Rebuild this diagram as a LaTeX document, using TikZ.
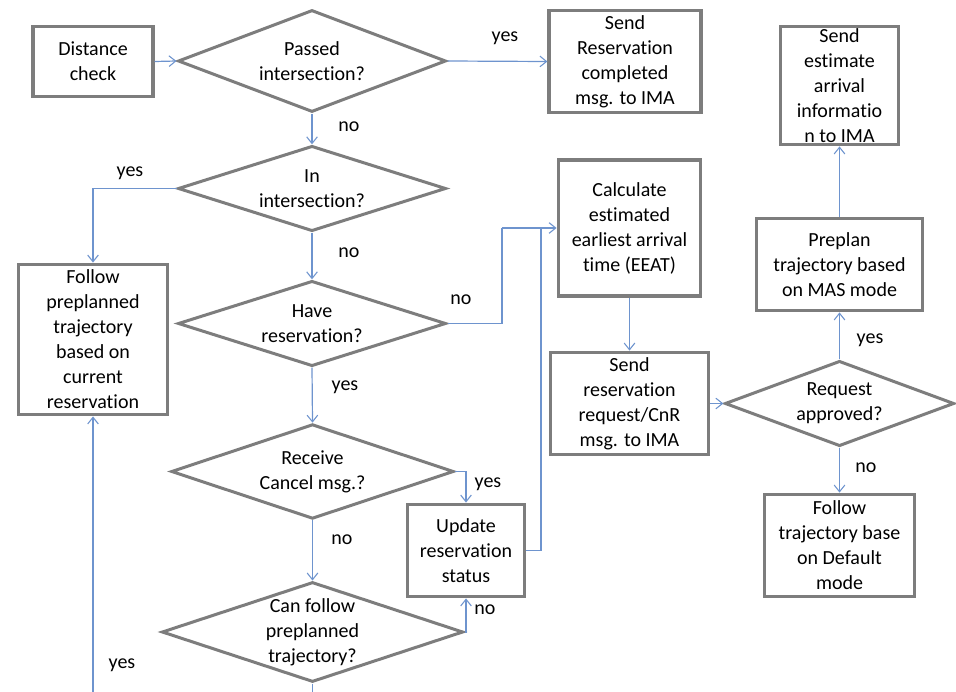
\documentclass[tikz,border=0pt]{standalone}
\usepackage{fontspec}
\setmainfont{Carlito}[Ligatures=NoCommon]
\usetikzlibrary{shapes.geometric,arrows.meta}
\definecolor{boxgray}{RGB}{125,125,125}
\definecolor{flowblue}{RGB}{110,148,206}
\tikzset{
  every node/.style={font=\fontsize{15}{18.75}\selectfont, text=black},
  procbox/.style={draw=boxgray, line width=2.4pt, fill=white, rectangle,
    inner sep=0pt, align=center},
  decision/.style={draw=boxgray, line width=2.25pt, fill=white, diamond,
    inner sep=0pt},
  dtext/.style={align=center, inner sep=0pt},
  flow/.style={draw=flowblue, line width=0.9pt,
    -{Straight Barb[length=5pt,width=8pt,line width=0.8pt]}},
  plain/.style={draw=flowblue, line width=0.9pt},
  lbl/.style={inner sep=0pt}
}
\begin{document}
\begin{tikzpicture}[x=0.75pt, y=-0.75pt]
\useasboundingbox (0,0) rectangle (956,692);

% process boxes
\node[procbox, minimum width=90pt, minimum height=53pt] (dist) at (93,61.5) {Distance\\check};
\node[procbox, minimum width=114pt, minimum height=77pt] (sendres) at (625,61.5) {Send\\Reservation\\completed\\msg. to IMA};
\node[procbox, minimum width=89pt, minimum height=89pt] (sendest) at (839.5,85.5) {Send\\estimate\\arrival\\informatio\\n to IMA};
\node[procbox, minimum width=107pt, minimum height=102pt] (calc) at (629.5,228) {Calculate\\estimated\\earliest arrival\\time (EEAT)};
\node[procbox, minimum width=125pt, minimum height=69.5pt] (preplan) at (839.5,264.5) {Preplan\\trajectory based\\on MAS mode};
\node[procbox, minimum width=112pt, minimum height=113pt] (follow) at (93,339.5) {Follow\\preplanned\\trajectory\\based on\\current\\reservation};
\node[procbox, minimum width=119pt, minimum height=77pt] (sendreq) at (629.5,403.5) {Send\\reservation\\request/CnR\\msg. to IMA};
\node[procbox, minimum width=88pt, minimum height=69.5pt] (update) at (466,550.5) {Update\\reservation\\status};
\node[procbox, minimum width=113pt, minimum height=77pt] (default) at (839.5,545.5) {Follow\\trajectory base\\on Default\\mode};

% decision diamonds
\node[decision, minimum width=201pt, minimum height=76.5pt] (passed) at (312,61) {};
\node[dtext] at (passed) {Passed\\intersection?};
\node[decision, minimum width=201pt, minimum height=64pt] (inter) at (312,188.5) {};
\node[dtext] at (inter) {In\\intersection?};
\node[decision, minimum width=201pt, minimum height=64pt] (have) at (312,323.5) {};
\node[dtext] at (have) {Have\\reservation?};
\node[decision, minimum width=212pt, minimum height=71pt] (receive) at (312.5,471.5) {};
\node[dtext] at (receive) {Receive\\Cancel msg.?};
\node[decision, minimum width=226pt, minimum height=75pt] (canfollow) at (312.5,632) {};
\node[dtext] at (canfollow) {Can follow\\preplanned\\trajectory?};
\node[decision, minimum width=172pt, minimum height=64pt] (approved) at (839.5,403.5) {};
\node[dtext] at (approved) {Request\\approved?};

% junction points
\coordinate (j1) at (502,228);
\coordinate (j2) at (541,228);
\coordinate (bot1) at (312.5,692);
\coordinate (bot2) at (93,692);

% connectors
\draw[flow] (dist.east) -- (passed.west);
\draw[flow] (passed.east) -- (sendres.west);
\draw[flow] (passed.south) -- (inter.north);
\draw[flow] (inter.west) -| (follow.north);
\draw[flow] (inter.south) -- (have.north);
\draw[plain] (have.east) -| (j1);
\draw[plain] (update.east) -| (j2);
\draw[flow] (j1) -- (calc.west);
\draw[flow] (have.south) -- (receive.north);
\draw[flow] (receive.east) -| (update.north);
\draw[flow] (receive.south) -- (canfollow.north);
\draw[flow] (canfollow.east) -| (update.south);
\draw[plain] (canfollow.south) -- (bot1);
\draw[flow] (bot2) -- (follow.south);
\draw[flow] (calc.south) -- (sendreq.north);
\draw[flow] (sendreq.east) -- (approved.west);
\draw[flow] (approved.north) -- (preplan.south);
\draw[flow] (preplan.north) -- (sendest.south);
\draw[flow] (approved.south) -- (default.north);

% branch labels
\node[lbl] at (505,38) {yes};
\node[lbl] at (349,127) {no};
\node[lbl] at (130,173) {yes};
\node[lbl] at (349,253) {no};
\node[lbl] at (461,300) {no};
\node[lbl] at (345,387) {yes};
\node[lbl] at (488,484) {yes};
\node[lbl] at (342,540) {no};
\node[lbl] at (485,610) {no};
\node[lbl] at (122,665) {yes};
\node[lbl] at (870,340) {yes};
\node[lbl] at (866,468) {no};
\end{tikzpicture}
\end{document}
